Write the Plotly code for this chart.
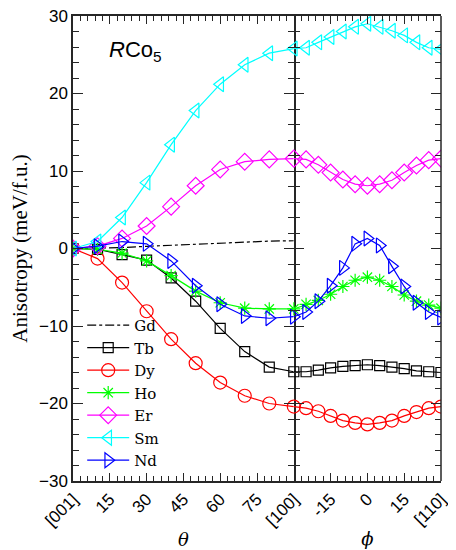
import plotly.graph_objects as go

theta = [0, 10, 20, 30, 40, 50, 60, 70, 80, 90]
phi = [-30, -25, -20, -15, -10, -5, 0, 5, 10, 15, 20, 25, 30]

gd_theta = [0, 0.03, 0.12, 0.28, 0.42, 0.58, 0.72, 0.85, 0.95, 1.0]

tb_theta = [0, -0.1, -0.8, -1.5, -3.8, -6.8, -10.3, -13.3, -15.3, -15.9]
dy_theta = [0, -1.3, -4.4, -8.1, -11.7, -14.8, -17.3, -19.0, -20.0, -20.4]
ho_theta = [0, -0.1, -0.6, -1.6, -3.5, -5.5, -7.0, -7.7, -7.8, -7.8]
er_theta = [0, 0.3, 1.3, 2.9, 5.4, 8.1, 10.2, 11.2, 11.5, 11.6]
sm_theta = [0, 0.9, 4.0, 8.5, 13.4, 17.8, 21.2, 23.7, 25.2, 25.8]
nd_theta = [0, 0.3, 0.9, 0.6, -1.6, -4.8, -7.2, -8.7, -9.0, -8.8]

tb_phi = [-15.9, -15.9, -15.7, -15.4, -15.2, -15.1, -15.0, -15.1, -15.3, -15.5, -15.8, -15.9, -16.0]
dy_phi = [-20.4, -20.6, -21.0, -21.6, -22.2, -22.5, -22.7, -22.5, -22.2, -21.6, -21.1, -20.6, -20.4]
ho_phi = [-7.8, -7.2, -6.7, -5.9, -4.9, -4.1, -3.7, -4.1, -4.9, -6.0, -6.8, -7.3, -7.7]
er_phi = [11.6, 11.5, 10.8, 9.8, 8.9, 8.3, 8.1, 8.3, 8.8, 9.8, 10.7, 11.4, 11.6]
sm_phi = [25.8, 25.9, 26.6, 27.3, 28.0, 28.6, 29.0, 28.6, 28.1, 27.5, 26.6, 25.9, 25.7]
nd_phi = [-8.8, -8.2, -6.8, -4.8, -2.5, 0.6, 1.3, 0.4, -2.3, -4.9, -7.0, -8.2, -8.9]

theta_ticks = [0, 15, 30, 45, 60, 75, 90]
theta_text = ["[001]", "15", "30", "45", "60", "75", "[100]"]
phi_ticks = [-15, 0, 15, 30]
phi_text = ["-15", "0", "15", "[110]"]

series = [
    ("Tb", tb_theta, tb_phi, "#000000", "square-open", 10),
    ("Dy", dy_theta, dy_phi, "#FF0000", "circle-open", 13),
    ("Ho", ho_theta, ho_phi, "#00FF00", "asterisk-open", 11),
    ("Er", er_theta, er_phi, "#FF00FF", "diamond-open", 13),
    ("Sm", sm_theta, sm_phi, "#00FFFF", "triangle-left-open", 13),
    ("Nd", nd_theta, nd_phi, "#0000FF", "triangle-right-open", 13),
]

fig = go.Figure()
fig.add_trace(go.Scatter(x=theta, y=gd_theta, mode="lines", name="Gd",
                         line=dict(color="black", width=1.2, dash="dashdot"),
                         xaxis="x", yaxis="y"))
for name, yt, yp, col, sym, sz in series:
    mk = dict(symbol=sym, size=sz, color=col, line=dict(color=col, width=1.2))
    fig.add_trace(go.Scatter(x=theta, y=yt, mode="lines+markers", name=name,
                             line=dict(color=col, width=1.2), marker=mk,
                             xaxis="x", yaxis="y"))
    fig.add_trace(go.Scatter(x=phi, y=yp, mode="lines+markers", name=name,
                             line=dict(color=col, width=1.2), marker=mk,
                             showlegend=False, xaxis="x2", yaxis="y2"))

AX = "#262626"
tickfont = dict(family="Liberation Sans, Arial", size=17, color="black")
common_x = dict(showline=True, linecolor=AX, linewidth=1.5, mirror="allticks",
                ticks="inside", ticklen=8, tickwidth=1.2, tickcolor=AX,
                tickangle=-45, tickfont=tickfont, showgrid=False, zeroline=False,
                automargin=False, ticklabeloverflow="allow")
minor_x = dict(dtick=3, tick0=0, ticks="inside", ticklen=5, tickcolor=AX)

fig.update_layout(
    width=448, height=542,
    margin=dict(l=65, r=15, t=8, b=69),
    paper_bgcolor="white", plot_bgcolor="white",
    xaxis=dict(domain=[0, 0.6], range=[0, 90], tickmode="array",
               tickvals=theta_ticks, ticktext=theta_text, minor=minor_x,
               title=dict(text="<i>θ</i>", font=dict(family="DejaVu Serif", size=18, color="black"), standoff=4),
               **common_x),
    xaxis2=dict(domain=[0.6, 1], range=[-30, 30], tickmode="array",
                tickvals=phi_ticks, ticktext=phi_text, anchor="y2", minor=minor_x,
                title=dict(text="<i>ϕ</i>", font=dict(family="DejaVu Serif", size=18, color="black"), standoff=4),
                **common_x),
    yaxis=dict(range=[-30, 30], dtick=10, showline=True, linecolor=AX, linewidth=1.5,
               mirror="allticks", ticks="inside", ticklen=10, tickwidth=1.2, tickcolor=AX,
               minor=dict(dtick=2, ticks="inside", ticklen=6, tickcolor=AX),
               tickfont=tickfont, showgrid=False, zeroline=False, automargin=False,
               ticklabeloverflow="allow",
               title=dict(text="Anisotropy (meV/f.u.)", font=dict(family="Liberation Serif", size=21, color="black"), standoff=6)),
    yaxis2=dict(range=[-30, 30], dtick=10, anchor="x2", matches="y", showticklabels=False,
                showline=False, mirror="allticks", ticks="inside", ticklen=10, tickwidth=1.2,
                tickcolor=AX, automargin=False,
                minor=dict(dtick=2, ticks="inside", ticklen=6, tickcolor=AX),
                showgrid=False, zeroline=False),
    legend=dict(x=0.025, y=0.37, xanchor="left", yanchor="top", bgcolor="rgba(0,0,0,0)",
                itemwidth=42,
                font=dict(family="DejaVu Serif", size=15, color="black"), tracegroupgap=0),
    showlegend=True,
)
fig.add_shape(type="line", xref="x2 domain", yref="y2 domain", x0=1, x1=1, y0=0, y1=1,
              line=dict(color=AX, width=1.5))
fig.add_annotation(x=14, y=25.5, xref="x", yref="y", xanchor="left", yanchor="middle",
                   text="<i>R</i>Co<sub>5</sub>", showarrow=False,
                   font=dict(family="Liberation Sans, Arial", size=22, color="black"))

fig.write_html("out.html")
